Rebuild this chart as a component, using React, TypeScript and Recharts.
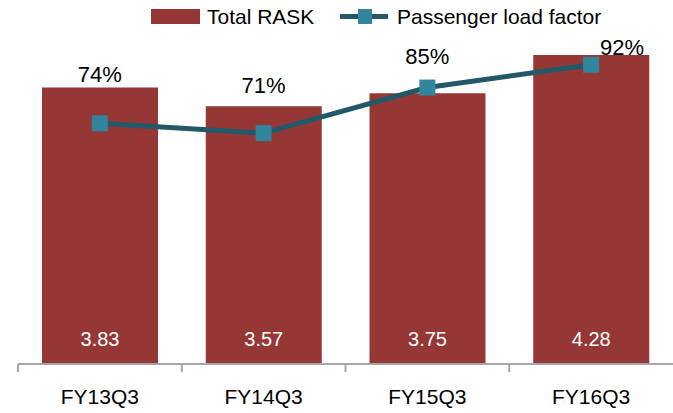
import React from 'react';
import { ComposedChart, Bar, Line, XAxis, YAxis, LabelList } from 'recharts';

const categories = ['FY13Q3', 'FY14Q3', 'FY15Q3', 'FY16Q3'];
const totalRask = [3.83, 3.57, 3.75, 4.28];
const loadFactor = [74, 71, 85, 92];

const data = categories.map((c, i) => ({ category: c, rask: totalRask[i], lf: loadFactor[i] }));

const W = 673;
const H = 413;
const MARGIN = { top: 3, right: 0, left: 18, bottom: 0 };
const BAND = (W - MARGIN.left - MARGIN.right) / categories.length;
const FONT = '"Liberation Sans", Arial, sans-serif';
const BAR_COLOR = '#953735';
const LINE_COLOR = '#215968';
const MARKER_COLOR = '#31859C';
const AXIS_COLOR = '#A6A6A6';

// label placement tweaks (relative to each point), as in the reference
const lfLabelOffsets = [
  { dx: 0, dy: -41 },
  { dx: 0, dy: -40 },
  { dx: 0, dy: -24 },
  { dx: 31, dy: -10 },
];

const XTick = (props: any) => {
  const { x, y, payload } = props;
  const bx = x - BAND / 2;
  return (
    <g>
      <line x1={bx} y1={y} x2={bx} y2={y + 8} stroke={AXIS_COLOR} strokeWidth={2} />
      <text x={x} y={y + 40} textAnchor="middle" fontSize={21} fontFamily={FONT} fill="#000">
        {payload.value}
      </text>
    </g>
  );
};

const SquareDot = (props: any) => {
  const { cx, cy, index } = props;
  if (cx == null || cy == null) return null;
  const s = 16;
  return <rect key={`d${index}`} x={cx - s / 2} y={cy - s / 2} width={s} height={s} fill={MARKER_COLOR} />;
};

const BarLabel = (props: any) => {
  const { x, y, width, height, value } = props;
  return (
    <text x={x + width / 2} y={y + height - 18} textAnchor="middle" fontSize={20} fontFamily={FONT} fill="#fff">
      {Number(value).toFixed(2)}
    </text>
  );
};

const LfLabel = (props: any) => {
  const { x, y, value, index } = props;
  const o = lfLabelOffsets[index] || { dx: 0, dy: -20 };
  return (
    <text x={x + o.dx} y={y + o.dy} textAnchor="middle" fontSize={22} fontFamily={FONT} fill="#000">
      {`${value}%`}
    </text>
  );
};

export default function App() {
  return (
    <div style={{ position: 'absolute', left: 0, top: 0, width: W, height: H, background: '#fff' }}>
      <ComposedChart width={W} height={H} data={data} margin={MARGIN}>
        <XAxis
          dataKey="category"
          height={49}
          axisLine={{ stroke: AXIS_COLOR, strokeWidth: 2 }}
          tickLine={false}
          tickSize={0}
          tickMargin={0}
          interval={0}
          tick={<XTick />}
        />
        <YAxis yAxisId="left" hide domain={[0, 5]} />
        <YAxis yAxisId="right" orientation="right" hide domain={[0, 111]} />
        <Bar yAxisId="left" dataKey="rask" fill={BAR_COLOR} barSize={116} isAnimationActive={false}>
          <LabelList dataKey="rask" content={<BarLabel />} />
        </Bar>
        <Line
          yAxisId="right"
          dataKey="lf"
          type="linear"
          stroke={LINE_COLOR}
          strokeWidth={5}
          dot={<SquareDot />}
          activeDot={false}
          isAnimationActive={false}
        >
          <LabelList dataKey="lf" content={<LfLabel />} />
        </Line>
      </ComposedChart>
      <svg width={W} height={34} style={{ position: 'absolute', left: 0, top: 0, pointerEvents: 'none' }}>
        <rect x={151} y={9} width={49} height={15} fill={BAR_COLOR} />
        <text x={207} y={24} fontSize={21} fontFamily={FONT} fill="#000">Total RASK</text>
        <line x1={340} y1={16.5} x2={388} y2={16.5} stroke={LINE_COLOR} strokeWidth={5} />
        <rect x={358} y={9} width={14} height={15} fill={MARKER_COLOR} />
        <text x={397} y={24} fontSize={21} fontFamily={FONT} fill="#000">Passenger load factor</text>
      </svg>
    </div>
  );
}
